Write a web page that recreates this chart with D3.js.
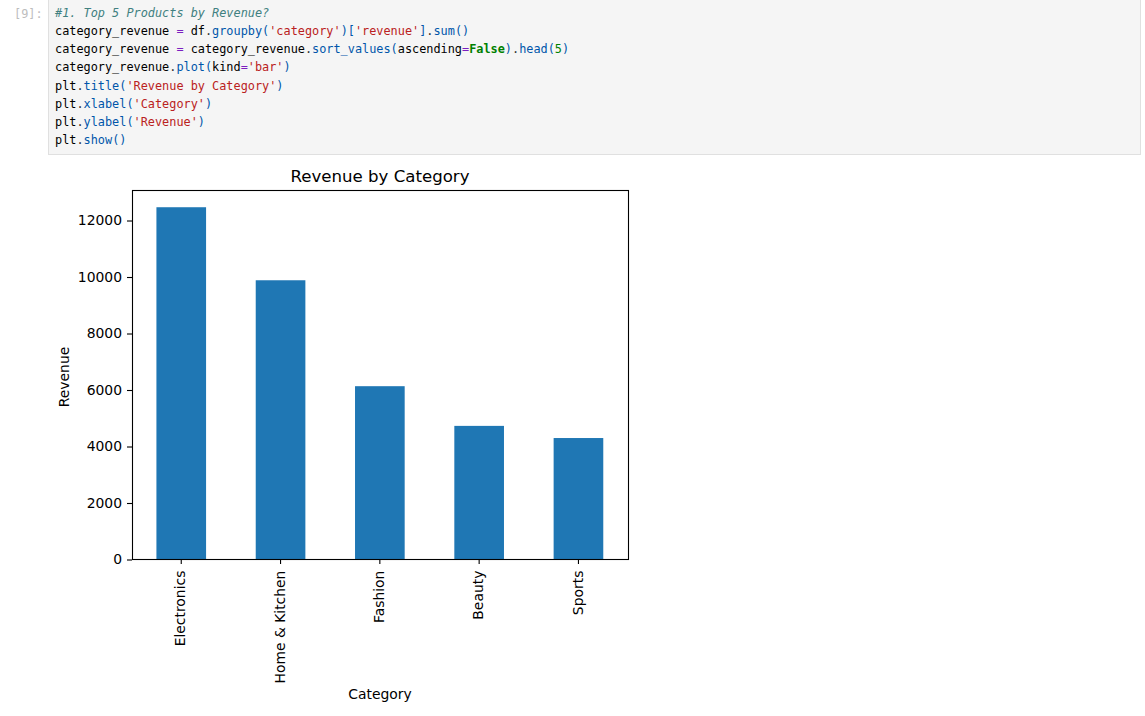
<!DOCTYPE html>
<html>
<head>
<meta charset="utf-8">
<script src="https://cdn.jsdelivr.net/npm/d3@7"></script>
<style>
html, body { margin: 0; padding: 0; background: #fff; }
svg { display: block; }
.code { font-family: "DejaVu Sans Mono", monospace; font-size: 11.87px; white-space: pre; }
.mpl { font-family: "DejaVu Sans", sans-serif; fill: #000; }
</style>
</head>
<body>
<svg id="page" width="1145" height="716"></svg>
<script>
var categories = ['Electronics', 'Home & Kitchen', 'Fashion', 'Beauty', 'Sports'];
var revenue = [12470, 9885, 6135, 4730, 4300];
var yTicks = [0, 2000, 4000, 6000, 8000, 10000, 12000];
var yMax = 13080;

// code cell, one list of [text, kind] per line
var codeLines = [
    [['#1. Top 5 Products by Revenue?', 'comment']],
    [['category_revenue ', 'name'], ['=', 'op'], [' df', 'name'], ['.', 'dot'], ['groupby', 'fn'], ['(', 'fn'], ["'category'", 'str'], [')', 'fn'], ['[', 'fn'], ["'revenue'", 'str'], [']', 'fn'], ['.', 'dot'], ['sum', 'fn'], ['()', 'fn']],
    [['category_revenue ', 'name'], ['=', 'op'], [' category_revenue', 'name'], ['.', 'dot'], ['sort_values', 'fn'], ['(', 'fn'], ['ascending', 'name'], ['=', 'op'], ['False', 'kw'], [')', 'fn'], ['.', 'dot'], ['head', 'fn'], ['(', 'fn'], ['5', 'num'], [')', 'fn']],
    [['category_revenue', 'name'], ['.', 'dot'], ['plot', 'fn'], ['(', 'fn'], ['kind', 'name'], ['=', 'op'], ["'bar'", 'str'], [')', 'fn']],
    [['plt', 'name'], ['.', 'dot'], ['title', 'fn'], ['(', 'fn'], ["'Revenue by Category'", 'str'], [')', 'fn']],
    [['plt', 'name'], ['.', 'dot'], ['xlabel', 'fn'], ['(', 'fn'], ["'Category'", 'str'], [')', 'fn']],
    [['plt', 'name'], ['.', 'dot'], ['ylabel', 'fn'], ['(', 'fn'], ["'Revenue'", 'str'], [')', 'fn']],
    [['plt', 'name'], ['.', 'dot'], ['show', 'fn'], ['()', 'fn']]
];
var kindColors = { comment: '#408080', name: '#000', op: '#7c1fc0', dot: '#333', fn: '#0055aa', str: '#ba2121', kw: '#008000', num: '#008000' };

var svg = d3.select('#page');

// notebook cell
svg.append('rect').attr('x', 48.5).attr('y', -2).attr('width', 1092).attr('height', 156.5)
    .attr('fill', '#f5f5f5').attr('stroke', '#e0e0e0');
svg.append('text').attr('class', 'code').attr('x', 14).attr('y', 18)
    .attr('fill', '#bdbdbd').text('[9]:');

var codeLine = svg.selectAll('.code-line').data(codeLines).enter().append('text')
    .attr('class', 'code code-line')
    .attr('x', 55)
    .attr('y', function(d, i) { return 17 + i * 18.14; });
codeLine.selectAll('tspan').data(function(d) { return d; }).enter().append('tspan')
    .attr('fill', function(d) { return kindColors[d[1]]; })
    .attr('font-style', function(d) { return d[1] == 'comment' ? 'italic' : null; })
    .attr('font-weight', function(d) { return d[1] == 'kw' ? 'bold' : null; })
    .text(function(d) { return d[0]; });

// chart
var left = 132.5, right = 628.5, top_ = 190.5, bottom = 559.5;
var x = d3.scaleBand().domain(categories).range([131.6, 628.1]).paddingInner(0.5).paddingOuter(0.25);
var y = d3.scaleLinear().domain([0, yMax]).range([bottom, 190]);

svg.selectAll('.bar').data(revenue).enter().append('rect')
    .attr('class', 'bar')
    .attr('x', function(d, i) { return x(categories[i]); })
    .attr('y', function(d) { return y(d); })
    .attr('width', x.bandwidth())
    .attr('height', function(d) { return y(0) - y(d); })
    .attr('fill', '#1f77b4');

var yAxis = svg.append('g').attr('transform', 'translate(132,0)')
    .call(d3.axisLeft(y).tickValues(yTicks).tickFormat(d3.format('d')).tickSize(5).tickPadding(5));
var xAxis = svg.append('g').attr('transform', 'translate(0,559)')
    .call(d3.axisBottom(x).tickSize(5));
xAxis.selectAll('text')
    .attr('transform', 'rotate(-90)')
    .attr('x', -11.6).attr('y', -0.8).attr('dy', '0.35em')
    .attr('text-anchor', 'end');

[xAxis, yAxis].forEach(function(a) {
    a.select('.domain').remove();
    a.selectAll('line').attr('stroke', '#000').attr('stroke-width', 1.1);
    a.selectAll('text').attr('class', 'mpl').attr('font-size', 13.9).attr('fill', '#000');
});

// frame
svg.append('rect').attr('x', left).attr('y', top_).attr('width', right - left).attr('height', bottom - top_)
    .attr('fill', 'none').attr('stroke', '#000').attr('stroke-width', 1.1);

svg.append('text').attr('class', 'mpl').attr('x', 380).attr('y', 182).attr('text-anchor', 'middle')
    .attr('font-size', 16.6).text('Revenue by Category');
svg.append('text').attr('class', 'mpl').attr('x', 380).attr('y', 699).attr('text-anchor', 'middle')
    .attr('font-size', 13.9).text('Category');
svg.append('text').attr('class', 'mpl').attr('transform', 'translate(69,377) rotate(-90)').attr('text-anchor', 'middle')
    .attr('font-size', 13.9).text('Revenue');
</script>
</body>
</html>
